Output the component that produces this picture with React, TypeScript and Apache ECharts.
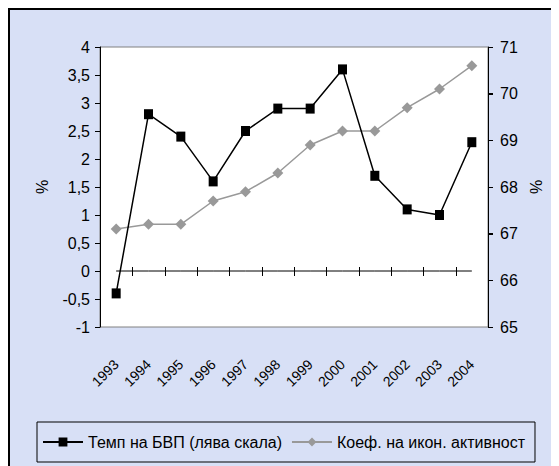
import React, { useEffect, useRef } from "react";
import * as echarts from "echarts";

const years = ["1993", "1994", "1995", "1996", "1997", "1998", "1999", "2000", "2001", "2002", "2003", "2004"];
const gdpGrowth = [-0.4, 2.8, 2.4, 1.6, 2.5, 2.9, 2.9, 3.6, 1.7, 1.1, 1.0, 2.3];
const activityRate = [67.1, 67.2, 67.2, 67.7, 67.9, 68.3, 68.9, 69.2, 69.2, 69.7, 70.1, 70.6];
const leftTicks = [-1, -0.5, 0, 0.5, 1, 1.5, 2, 2.5, 3, 3.5, 4];
const rightTicks = [65, 66, 67, 68, 69, 70, 71];
const seriesNames = ["Темп на БВП (лява скала)", "Коеф. на икон. активност"];
const leftAxisName = "%";
const rightAxisName = "%";

const FONT = "'Liberation Sans', Arial, sans-serif";
const BG = "#d8e0f6";

const G_LEFT = 90;
const G_RIGHT = 71;
const G_TOP = 37;
const G_BOTTOM = 139;
const CH_W = 549;
const CH_H = 456;
const TICK = 5;

export default function App() {
  const ref = useRef<HTMLDivElement>(null);
  useEffect(() => {
    if (!ref.current) return;
    const chart = echarts.init(ref.current, null, { renderer: "svg" });
    const fmt = (v: number) => String(v).replace(".", ",");
    const lmin = leftTicks[0];
    const lmax = leftTicks[leftTicks.length - 1];

    const xTickRender = (params: any, api: any) => {
      const p = api.coord([api.value(0), 0]);
      const w = api.size([1, 0])[0];
      const x = Math.round(p[0] + w / 2);
      const y = Math.round(p[1]);
      return {
        type: "rect",
        shape: { x: x, y: y - 4, width: 1, height: 9 },
        style: { fill: "#000" },
        z2: 100,
      };
    };
    const leftTickRender = (params: any, api: any) => {
      const cs = params.coordSys;
      const p = api.coord([0, api.value(1)]);
      const y = Math.round(p[1]);
      return {
        type: "rect",
        shape: { x: cs.x - TICK, y: y, width: TICK, height: 1 },
        style: { fill: "#000" },
        z2: 100,
      };
    };
    const rightTickRender = (params: any, api: any) => {
      const cs = params.coordSys;
      const p = api.coord([0, api.value(1)]);
      const y = Math.round(p[1]);
      return {
        type: "rect",
        shape: { x: cs.x + cs.width, y: y, width: TICK, height: 1 },
        style: { fill: "#000" },
        z2: 100,
      };
    };

    chart.setOption({
      animation: false,
      backgroundColor: BG,
      textStyle: { fontFamily: FONT, color: "#000" },
      grid: {
        left: G_LEFT,
        top: G_TOP,
        right: G_RIGHT,
        bottom: G_BOTTOM,
        show: true,
        backgroundColor: "#ffffff",
        borderColor: "#808080",
        borderWidth: 1,
      },
      legend: {
        left: 27,
        top: 412,
        orient: "horizontal",
        itemWidth: 40,
        itemHeight: 11,
        itemGap: 9,
        padding: [10, 10, 10, 5],
        borderColor: "#000",
        borderWidth: 1,
        textStyle: { fontFamily: FONT, fontSize: 16, color: "#000", lineHeight: 20 },
        data: seriesNames,
      },
      xAxis: {
        type: "category",
        data: years,
        position: "bottom",
        boundaryGap: true,
        axisLine: { show: false, onZero: false },
        axisTick: { show: false },
        axisLabel: {
          rotate: 45,
          margin: 35,
          fontFamily: FONT,
          fontSize: 14,
          color: "#000",
          interval: 0,
        },
        splitLine: { show: false },
      },
      yAxis: [
        {
          type: "value",
          min: lmin,
          max: lmax,
          interval: 0.5,
          position: "left",
          name: leftAxisName,
          nameLocation: "middle",
          nameRotate: 90,
          nameGap: 50,
          nameTextStyle: { fontFamily: FONT, fontSize: 16, color: "#000" },
          axisLine: { show: true, lineStyle: { color: "#000", width: 1 } },
          axisTick: { show: true, length: TICK, lineStyle: { color: "#000", width: 1 } },
          axisLabel: { fontFamily: FONT, fontSize: 16, color: "#000", margin: 10, formatter: fmt },
          splitLine: { show: false },
        },
        {
          type: "value",
          min: rightTicks[0],
          max: rightTicks[rightTicks.length - 1],
          interval: 1,
          position: "right",
          name: rightAxisName,
          nameLocation: "middle",
          nameRotate: 90,
          nameGap: 40,
          nameTextStyle: { fontFamily: FONT, fontSize: 16, color: "#000" },
          axisLine: { show: true, lineStyle: { color: "#000", width: 1 } },
          axisTick: { show: true, length: TICK, lineStyle: { color: "#000", width: 1 } },
          axisLabel: { fontFamily: FONT, fontSize: 16, color: "#000", margin: 12 },
          splitLine: { show: false },
        },
      ],
      series: [
        {
          type: "line",
          xAxisIndex: 0,
          yAxisIndex: 0,
          data: years.map(() => 0),
          symbol: "none",
          silent: true,
          lineStyle: { color: "#000", width: 1 },
          markLine: undefined,
          z: 2,
        },
        {
          type: "custom",
          xAxisIndex: 0,
          yAxisIndex: 0,
          silent: true,
          clip: false,
          z: 5,
          renderItem: xTickRender,
          data: years.slice(0, years.length - 1).map((_, i) => [i, 0]),
        },
        {
          type: "custom",
          xAxisIndex: 0,
          yAxisIndex: 0,
          silent: true,
          clip: false,
          z: 5,
          renderItem: leftTickRender,
          data: leftTicks.map((v) => [0, v]),
        },
        {
          type: "custom",
          xAxisIndex: 0,
          yAxisIndex: 1,
          silent: true,
          clip: false,
          z: 5,
          renderItem: rightTickRender,
          data: rightTicks.map((v) => [0, v]),
        },
        {
          name: seriesNames[1],
          type: "line",
          xAxisIndex: 0,
          yAxisIndex: 1,
          data: activityRate,
          symbol: "diamond",
          symbolSize: 11,
          lineStyle: { color: "#999999", width: 1.5 },
          itemStyle: { color: "#999999" },
          z: 6,
        },
        {
          name: seriesNames[0],
          type: "line",
          xAxisIndex: 0,
          yAxisIndex: 0,
          data: gdpGrowth,
          symbol: "rect",
          symbolSize: [9, 10],
          lineStyle: { color: "#000000", width: 1.5 },
          itemStyle: { color: "#000000" },
          z: 7,
        },
      ],
    });
    return () => chart.dispose();
  }, []);

  return (
    <div
      style={{
        width: CH_W,
        height: CH_H,
        borderTop: "2px solid #000",
        borderLeft: "2px solid #000",
        background: BG,
      }}
    >
      <div ref={ref} style={{ width: CH_W, height: CH_H }} />
    </div>
  );
}
